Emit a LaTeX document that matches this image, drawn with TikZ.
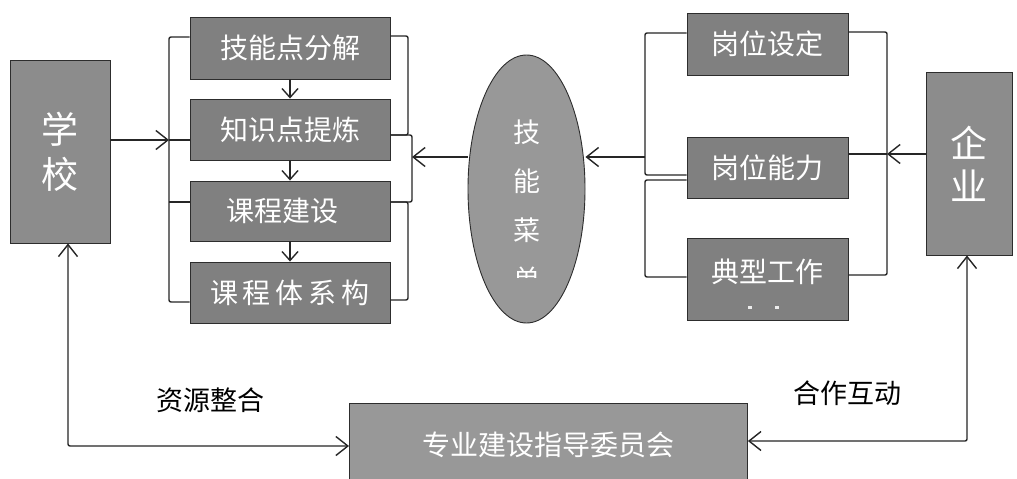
\documentclass[tikz,border=0pt]{standalone}
\usepackage{fontspec}
\newfontfamily\cjk{Noto Sans CJK SC}
\usetikzlibrary{arrows.meta,shapes.geometric}
\definecolor{boxgray}{RGB}{128,128,128}
\definecolor{biggray}{RGB}{140,140,140}
\definecolor{lightgray2}{RGB}{152,152,152}
\definecolor{edgegray}{RGB}{45,45,45}
\tikzset{
  box/.style={draw=edgegray, line width=0.9pt, fill=boxgray, text=white, font=\cjk\fontsize{28}{28}\selectfont, inner sep=0pt, anchor=center},
  bigbox/.style={box, fill=biggray, font=\cjk\fontsize{37}{37}\selectfont, align=center},
  conn/.style={line width=1.4pt, black!85, rounded corners=2pt},
  arr/.style={conn, -{Straight Barb[length=12pt,width=19pt,line width=1.4pt]}},
  darr/.style={conn, {Straight Barb[length=12pt,width=19pt,line width=1.4pt]}-{Straight Barb[length=12pt,width=19pt,line width=1.4pt]}},
  sarr/.style={line width=1.4pt, black!85, -{Straight Barb[length=9pt,width=16pt,line width=1.4pt]}},
  lbl/.style={font=\cjk\fontsize{27}{27}\selectfont, text=black, inner sep=0pt},
  wtxt/.style={text=white, font=\cjk\fontsize{28}{28}\selectfont, inner sep=0pt},
  vch/.style={text=white, font=\cjk\fontsize{27}{27}\selectfont, inner sep=0pt}
}
\begin{document}
\begin{tikzpicture}[x=1pt,y=-1pt]
\useasboundingbox[fill=white] (0,0) rectangle (1017,479);
% school and enterprise
\node[bigbox, minimum width=100pt, minimum height=183pt] (xx) at (60,151.5) {学\\[8pt]校};
\node[bigbox, minimum width=86pt, minimum height=183pt] (qy) at (969,163.5) {企\\[6pt]业};
% left stack
\node[box, minimum width=200pt, minimum height=62pt] (b1) at (290,48) {技能点分解};
\node[box, minimum width=200pt, minimum height=61pt] (b2) at (290,129.5) {知识点提炼};
\node[box, minimum width=200pt, minimum height=60pt] (b3) at (290,211) {};
\node[wtxt] (b3t) at (282,211) {课程建设};
\node[box, minimum width=200pt, minimum height=61pt] (b4) at (290,292.5) {课\hspace{5pt}程\hspace{5pt}体\hspace{5pt}系\hspace{5pt}构};
% ellipse
\node[ellipse, draw=edgegray, line width=0.9pt, fill=lightgray2, minimum width=117pt, minimum height=268pt, inner sep=0pt] (el) at (526.5,189) {};
\node[vch] (c1) at (527,132) {技};
\node[vch] (c2) at (527,181) {能};
\node[vch] (c3) at (527,230) {菜};
\begin{scope}
\clip (500,255) rectangle (555,277.5);
\node[vch] (c4) at (527,279.5) {单};
\end{scope}
% right stack
\node[box, minimum width=161pt, minimum height=62pt] (r1) at (767.5,44) {岗位设定};
\node[box, minimum width=161pt, minimum height=61pt] (r2) at (767.5,167.5) {岗位能力};
\node[box, minimum width=161pt, minimum height=82pt] (r3) at (767.5,279) {};
\node[wtxt] (r3t) at (767.5,272) {典型工作};
\fill[white!85!gray] (748,306) rectangle (752,309);
\fill[white!85!gray] (775,306) rectangle (779,309);
% committee
\node[box, fill=lightgray2, minimum width=398pt, minimum height=80pt, anchor=north west] (cm) at (349,403) {};
\node[wtxt] (cmt) at (548,445) {专业建设指导委员会};
% labels
\node[lbl] (l1) at (210,400) {资源整合};
\node[lbl] (l2) at (847,393) {合作互动};
% coordinates
\coordinate (LT) at (169,37);
\coordinate (LA) at (169,140);
\coordinate (LC) at (169,202);
\coordinate (LB) at (169,302);
\coordinate (RT) at (408,36);
\coordinate (RA) at (408,135);
\coordinate (RA2) at (412,135);
\coordinate (RM) at (412,157);
\coordinate (RC2) at (412,202);
\coordinate (RC) at (408,202);
\coordinate (RB) at (408,300);
\coordinate (ET) at (645,33);
\coordinate (EM) at (645,157);
\coordinate (EA) at (645,175);
\coordinate (EC) at (645,180);
\coordinate (EB) at (645,277);
\coordinate (FT) at (887,32);
\coordinate (FM) at (887,154);
\coordinate (FB) at (887,275);
\coordinate (BL) at (68,446);
\coordinate (BR) at (967,441);
% left bracket of left stack
\draw[conn] (b1.west |- LT) -- (LT) -- (LB) -- (b4.west |- LB);
\draw[conn] (LA) -- (b2.west |- LA);
\draw[conn] (LC) -- (b3.west |- LC);
\draw[arr] (xx.east |- LA) -- (LA);
% right bracket of left stack
\draw[conn] (b1.east |- RT) -- (RT) -- (RA) -- (b2.east |- RA);
\draw[conn] (b2.east |- RA2) -- (RA2) -- (RC2) -- (b3.east |- RC2);
\draw[conn] (b3.east |- RC) -- (RC) -- (RB) -- (b4.east |- RB);
\draw[arr] (el.west |- RM) -- (RM);
% down arrows
\draw[sarr] (b1.south) -- (b2.north);
\draw[sarr] (b2.south) -- (b3.north);
\draw[sarr] (b3.south) -- (b4.north);
% right stack brackets
\draw[conn] (r1.west |- ET) -- (ET) -- (EA) -- (r2.west |- EA);
\draw[conn] (r2.west |- EC) -- (EC) -- (EB) -- (r3.west |- EB);
\draw[arr] (EM) -- (el.east |- EM);
\draw[conn] (r1.east |- FT) -- (FT) -- (FB) -- (r3.east |- FB);
\draw[conn] (FM) -- (r2.east |- FM);
\draw[arr] (qy.west |- FM) -- (FM);
% bottom loops
\draw[darr] (xx.south -| BL) -- (BL) -- (cm.west |- BL);
\draw[darr] (qy.south -| BR) -- (BR) -- (cm.east |- BR);
\end{tikzpicture}
\end{document}
